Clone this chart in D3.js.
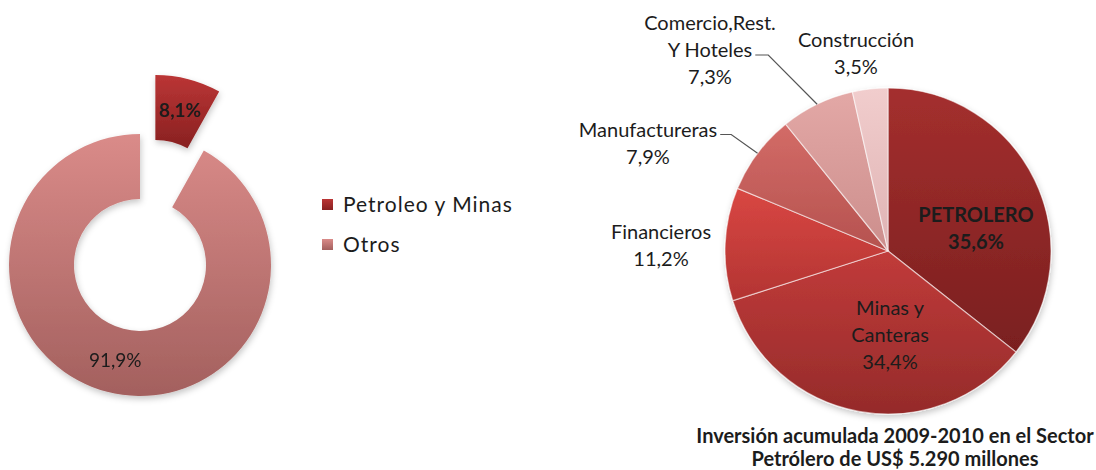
<!DOCTYPE html>
<html>
<head>
<meta charset="utf-8">
<title>Inversión Sector Petrólero</title>
<script src="https://d3js.org/d3.v7.min.js"></script>
<style>
  body { margin: 0; background: #fff; }
  svg text { font-family: Lato, "Open Sans", sans-serif; fill: #1c1c1c; }
</style>
</head>
<body>
<div id="chart"></div>
<script>
// left doughnut
var shareLabels = ["Petroleo y Minas", "Otros"];
var shareValues = [8.1, 91.9];
var shareText = ["8,1%", "91,9%"];

// right pie, clockwise from 12 o'clock
var sectorNames = [["PETROLERO"], ["Minas y", "Canteras"], ["Financieros"], ["Manufactureras"], ["Comercio,Rest.", "Y Hoteles"], ["Construcción"]];
var sectorValues = [35.6, 34.4, 11.2, 7.9, 7.3, 3.5];
var sectorText = ["35,6%", "34,4%", "11,2%", "7,9%", "7,3%", "3,5%"];

var titleLines = ["Inversión acumulada 2009-2010 en el Sector", "Petrólero de US$ 5.290 millones"];

// colours (top, bottom of each gradient)
var shareColors = [["#bb3535", "#882121"], ["#da8b89", "#a3605e"]];
var sectorColors = [["#a42f2e", "#7a1f1f"], ["#c13b3a", "#952b2a"], ["#d94743", "#b33432"],
                    ["#d36b67", "#b5524f"], ["#e3a8a6", "#cc8e8c"], ["#f1cdcd", "#dfb3b3"]];

// label layout for the pie: block centre relative to pie centre
var labelOffsets = [[88, -23], [2, 84], [-227, -6], [-240, -108], [-178, -201], [-32, -198]];
// leader lines: [line index to start from, elbow length]
var leaders = [null, null, null, [0, 11], [1, 13], null];

var W = 1096, H = 470;
var svg = d3.select("#chart").append("svg")
    .attr("width", W).attr("height", H);

var defs = svg.append("defs");
var shadow = defs.append("filter").attr("id", "shadow")
    .attr("x", "-20%").attr("y", "-20%").attr("width", "140%").attr("height", "140%");
shadow.append("feDropShadow").attr("dx", 1).attr("dy", 3).attr("stdDeviation", 3)
    .attr("flood-color", "#000").attr("flood-opacity", 0.22);

function grad(id, cols, units) {
  var g = defs.append("linearGradient").attr("id", id)
      .attr("x1", 0).attr("y1", 0).attr("x2", 0).attr("y2", 1);
  if (units) g.attr("gradientUnits", "userSpaceOnUse")
      .attr("x1", 0).attr("y1", units[0]).attr("x2", 0).attr("y2", units[1]);
  g.append("stop").attr("offset", "0%").attr("stop-color", cols[0]);
  g.append("stop").attr("offset", "100%").attr("stop-color", cols[1]);
}

// ---------- doughnut ----------
var dcx = 140, dcy = 265, dOuter = 131, dInner = 66, explode = 61;
shareColors.forEach(function(c, i) { grad("share" + i, c); });
// ring gradient in the group's own (translated) coordinates
grad("shareRing", shareColors[1], [-dOuter, dOuter]);

var dPie = d3.pie().sort(null);
var dArc = d3.arc().innerRadius(dInner).outerRadius(dOuter);
var dArcs = dPie(shareValues);

var dg = svg.append("g").attr("transform", "translate(" + dcx + "," + dcy + ")")
    .attr("filter", "url(#shadow)");

function shift(d, i) {
  if (i !== 0) return [0, 0];
  var a = (d.startAngle + d.endAngle) / 2;
  return [explode * Math.sin(a), -explode * Math.cos(a)];
}

dg.selectAll("path").data(dArcs).enter().append("path")
  .attr("d", dArc)
  .attr("transform", function(d, i) { var s = shift(d, i); return "translate(" + s[0] + "," + s[1] + ")"; })
  .attr("fill", function(d, i) { return i === 0 ? "url(#share0)" : "url(#shareRing)"; });

svg.append("g").attr("transform", "translate(" + dcx + "," + dcy + ")")
  .selectAll("text").data(dArcs).enter().append("text")
  .attr("transform", function(d, i) {
    var c = dArc.centroid(d), s = shift(d, i);
    return "translate(" + (c[0] + s[0]) + "," + (c[1] + s[1]) + ")";
  })
  .attr("text-anchor", "middle").attr("dy", "0.35em")
  .style("font-size", "19px")
  .style("font-weight", function(d, i) { return i === 0 ? "bold" : "normal"; })
  .text(function(d, i) { return shareText[i]; });

// legend
var legend = svg.append("g").attr("transform", "translate(322,205)");
var li = legend.selectAll("g").data(shareLabels).enter().append("g")
  .attr("transform", function(d, i) { return "translate(0," + i * 40 + ")"; });
li.append("rect").attr("x", 0).attr("y", -6).attr("width", 11).attr("height", 11)
  .attr("fill", function(d, i) { return "url(#share" + i + ")"; });
li.append("text").attr("x", 21).attr("dy", "0.35em")
  .style("font-size", "21px").style("letter-spacing", "1px")
  .text(function(d) { return d; });

// ---------- pie ----------
var pcx = 888, pcy = 251, pr = 163;
sectorColors.forEach(function(c, i) { grad("sector" + i, c); });

var pPie = d3.pie().sort(null);
var pArc = d3.arc().innerRadius(0).outerRadius(pr);
var pArcs = pPie(sectorValues);

var pg = svg.append("g").attr("transform", "translate(" + pcx + "," + pcy + ")");
pg.append("g").attr("filter", "url(#shadow)")
  .selectAll("path").data(pArcs).enter().append("path")
  .attr("d", pArc)
  .attr("fill", function(d, i) { return "url(#sector" + i + ")"; })
  .attr("stroke", "rgba(255,255,255,0.55)")
  .attr("stroke-width", 1.2);

var lineH = 27;
pArcs.forEach(function(d, i) {
  var lines = sectorNames[i].concat([sectorText[i]]);
  var off = labelOffsets[i];
  var y0 = off[1] - (lines.length - 1) / 2 * lineH;
  var t = pg.append("text").attr("text-anchor", "middle")
    .style("font-size", "20px")
    .style("font-weight", i === 0 ? "bold" : "normal");
  var spans = lines.map(function(s, k) {
    return t.append("tspan").attr("x", off[0]).attr("y", y0 + k * lineH)
      .attr("dy", "0.35em").text(s);
  });
  if (leaders[i]) {
    var sp = spans[leaders[i][0]].node();
    var len = sp.getComputedTextLength();
    var xEnd = off[0] + len / 2 + 3;
    var yL = y0 + leaders[i][0] * lineH + 5;
    var a = (d.startAngle + d.endAngle) / 2;
    pg.insert("path", "text")
      .attr("d", d3.line()([[xEnd, yL], [xEnd + leaders[i][1], yL], [pr * Math.sin(a), -pr * Math.cos(a)]]))
      .attr("fill", "none").attr("stroke", "#555").attr("stroke-width", 1.2);
  }
});

// title
svg.append("text")
  .attr("text-anchor", "middle").style("font-size", "20px").style("font-weight", "bold")
  .selectAll("tspan").data(titleLines).enter().append("tspan")
  .attr("x", 895).attr("y", function(d, i) { return 436 + i * 23; })
  .attr("dy", "0.35em")
  .text(function(d) { return d; });
</script>
</body>
</html>
